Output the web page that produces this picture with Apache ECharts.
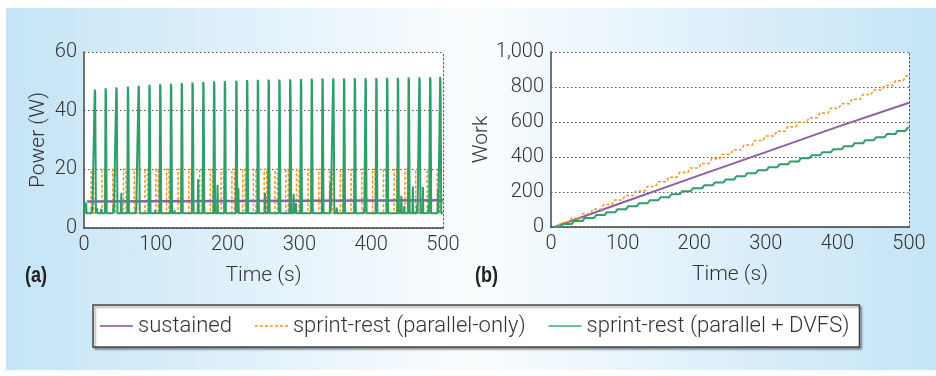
<!DOCTYPE html>
<html>
<head>
<meta charset="utf-8">
<title>Sprint-rest power and work</title>
<script src="https://cdn.jsdelivr.net/npm/echarts@6/dist/echarts.min.js"></script>
<style>
html, body { margin: 0; padding: 0; background: #fff; }
#bg {
  position: absolute; left: 6px; top: 8px; width: 930px; height: 362px;
  background: linear-gradient(to right, #c4e4f6 0%, #e3f2fb 28%, #fafdfe 50%, #e3f2fb 72%, #c4e4f6 100%);
}
#chart { position: absolute; left: 0; top: 0; width: 936px; height: 376px; }
</style>
</head>
<body>
<div id="bg"></div>
<div id="chart"></div>
<script>
// ---- (a) power over time ----
const sustainedPowerT = [4, 500];
const sustainedPowerW = [9.0, 9.5];

// parallel-only sprints: pulse start times (s), pulse length, levels (W)
const parallelPulseT = [10, 25, 40, 55, 70, 85, 100, 115, 131, 146, 161, 176, 191, 206, 221, 236, 251, 266,
  281, 296, 312, 327, 342, 357, 372, 387, 402, 417, 432, 447, 462, 478, 492];
const parallelPulseLen = 3.5;
const parallelLowW = 5;
const parallelHighW = 20;

// parallel + DVFS: spike times (s) and peak power (W)
const dvfsSpikeT = [15, 30, 45, 61, 76, 91, 106, 121, 136, 151, 166, 181, 196, 212, 227, 242, 257, 272,
  287, 302, 317, 332, 347, 362, 377, 392, 407, 422, 437, 452, 467, 482, 496];
const dvfsSpikeW = [47.2, 47.6, 47.9, 48.2, 48.5, 48.8, 49.0, 49.2, 49.4, 49.6, 49.8, 50.0, 50.1, 50.2, 50.4,
  50.5, 50.6, 50.6, 50.7, 50.8, 50.9, 51.0, 51.0, 51.0, 51.1, 51.1, 51.1, 51.2, 51.2, 51.3, 51.3, 51.4, 51.5];
const dvfsBaseW = 5;
// smaller bumps on the idle level
const dvfsBumpT = [1, 3, 11, 18, 24, 41, 52, 72, 99, 126, 159, 186, 215, 252, 292, 295, 343, 352, 390, 442, 446,
  458, 464, 472, 480, 493];
const dvfsBumpW = [9, 8.5, 7, 6.8, 6.5, 7.5, 12, 6.5, 6, 6, 16.7, 14.7, 13.6, 11.9, 11.6, 8.5, 15.3, 7, 6.5, 10.9,
  7.5, 14.1, 8, 14, 8, 13];

// ---- (b) work over time ----
const sustainedWorkT = [5, 100, 200, 300, 400, 500];
const sustainedWork = [0, 140, 285, 428, 572, 710];
const parallelWork = [24, 50, 76, 102, 128, 154, 180, 206, 232, 259, 285, 311, 337, 363, 390, 416, 442, 468,
  494, 520, 547, 573, 599, 625, 651, 678, 704, 730, 757, 783, 809, 836, 863];
const dvfsWork = [17, 34, 51, 68, 85, 102, 119, 136, 153, 170, 187, 204, 221, 238, 255, 272, 290, 307,
  324, 341, 358, 375, 393, 410, 427, 444, 461, 479, 496, 513, 531, 549, 567];

const names = ['sustained', 'sprint-rest (parallel-only)', 'sprint-rest (parallel + DVFS)'];
const PURPLE = '#8c5fa8', ORANGE = '#f7941d', GREEN = '#2f9e68';
const FONT = 'Roboto';
const TXT = '#333';

function pulseLine(starts, len, low, high) {
  const pts = [[2, low]];
  starts.forEach(s => pts.push([s, low], [s, high], [s + len, high], [s + len, low]));
  pts.push([500, low]);
  return pts;
}

function spikeLine() {
  const pts = [];
  dvfsSpikeT.forEach((t, i) => {
    pts.push([t - 0.7, dvfsBaseW], [t, dvfsSpikeW[i]], [t + 0.6, dvfsSpikeW[i] - 1], [t + 1.6, dvfsBaseW]);
  });
  dvfsBumpT.forEach((t, i) => {
    pts.push([t - 0.6, dvfsBaseW], [t, dvfsBumpW[i]], [t + 0.6, dvfsBaseW]);
  });
  pts.push([0, 8.5], [500, dvfsBaseW]);
  pts.sort((a, b) => a[0] - b[0]);
  return pts;
}

function stairs(stepT, rise, values) {
  const pts = [[5, 0]];
  let prev = 0;
  stepT.forEach((t, i) => {
    pts.push([t, prev], [Math.min(t + rise, 500), values[i]]);
    prev = values[i];
  });
  pts.push([500, prev]);
  return pts;
}

const labelStyle = { fontSize: 20, color: TXT, fontFamily: FONT, fontWeight: 300, margin: 7 };
const nameStyle = { fontSize: 21, color: TXT, fontFamily: FONT, fontWeight: 300 };
const solidAxis = { show: true, lineStyle: { color: '#444', width: 1.5 } };
const dotted = { type: [1.5, 2.5], color: '#555', width: 1 };

function xAx(grid) {
  return {
    gridIndex: grid, type: 'value', min: 0, max: 500, interval: 100,
    name: 'Time (s)', nameLocation: 'middle', nameGap: 37, nameTextStyle: nameStyle,
    axisLine: solidAxis, axisTick: { show: false }, axisLabel: labelStyle, splitLine: { show: false }
  };
}
function yAx(grid, max, step, name, gap, fmt) {
  return {
    gridIndex: grid, type: 'value', min: 0, max: max, interval: step,
    name: name, nameLocation: 'middle', nameGap: gap, nameTextStyle: nameStyle,
    axisLine: solidAxis, axisTick: { show: false },
    axisLabel: Object.assign({}, labelStyle, { formatter: fmt }),
    splitLine: { show: true, lineStyle: dotted }
  };
}
// dotted right-hand frame of each plot
function borderAx(grid, max) {
  return {
    gridIndex: grid, type: 'value', position: 'right', min: 0, max: max,
    axisLine: { show: true, lineStyle: dotted }, axisTick: { show: false },
    axisLabel: { show: false }, splitLine: { show: false }
  };
}

// legend keys: plain line, dashed line, plain line
const solidKey = 'path://M0,0H33V2H0Z';
const dashedKey = 'path://M0,0h3v2h-3zM5,0h3v2h-3zM10,0h3v2h-3zM15,0h3v2h-3zM20,0h3v2h-3zM25,0h3v2h-3zM30,0h3v2h-3z';

const chart = echarts.init(document.getElementById('chart'));
chart.setOption({
  animation: false,
  grid: [
    { left: 84, top: 52, width: 359, height: 176, show: true, backgroundColor: '#fff', borderWidth: 0 },
    { left: 551, top: 52, width: 358, height: 175, show: true, backgroundColor: '#fff', borderWidth: 0 }
  ],
  xAxis: [xAx(0), xAx(1)],
  yAxis: [
    yAx(0, 60, 20, 'Power (W)', 35, v => v),
    borderAx(0, 60),
    yAx(1, 1000, 200, 'Work', 47, v => v.toLocaleString('en-US')),
    borderAx(1, 1000)
  ],
  legend: {
    data: [
      { name: names[0], icon: solidKey, itemStyle: { color: '#a27bbd' } },
      { name: names[1], icon: dashedKey, itemStyle: { color: '#f9a94e' } },
      { name: names[2], icon: solidKey, itemStyle: { color: '#6cbf96' } }
    ],
    left: 93, top: 305,
    padding: [10, 10, 10, 7], itemGap: 23, itemWidth: 33, itemHeight: 2,
    backgroundColor: '#fff', borderColor: '#444', borderWidth: 1.5,
    shadowColor: 'rgba(0,0,0,0.35)', shadowOffsetX: 2, shadowOffsetY: 2, shadowBlur: 2,
    textStyle: { fontSize: 22, color: TXT, fontFamily: FONT, fontWeight: 300 }
  },
  graphic: [
    { type: 'text', left: 25, top: 265, scaleX: 0.82, style: { text: '(a)', font: 'bold 22px "Liberation Sans", sans-serif', fill: '#222' } },
    { type: 'text', left: 475, top: 265, scaleX: 0.82, style: { text: '(b)', font: 'bold 22px "Liberation Sans", sans-serif', fill: '#222' } }
  ],
  series: [
    { name: names[0], type: 'line', xAxisIndex: 1, yAxisIndex: 2, symbol: 'none',
      data: sustainedWorkT.map((t, i) => [t, sustainedWork[i]]), lineStyle: { color: PURPLE, width: 2 }, itemStyle: { color: PURPLE } },
    { name: names[1], type: 'line', xAxisIndex: 1, yAxisIndex: 2, symbol: 'none',
      data: stairs(parallelPulseT, parallelPulseLen, parallelWork), lineStyle: { color: ORANGE, width: 1.5, type: [3, 2] }, itemStyle: { color: ORANGE } },
    { name: names[2], type: 'line', xAxisIndex: 1, yAxisIndex: 2, symbol: 'none',
      data: stairs(dvfsSpikeT.map(t => t - 1), 3, dvfsWork), lineStyle: { color: GREEN, width: 2 }, itemStyle: { color: GREEN } },

    { name: names[1], type: 'line', xAxisIndex: 0, yAxisIndex: 0, symbol: 'none',
      data: pulseLine(parallelPulseT, parallelPulseLen, parallelLowW, parallelHighW), lineStyle: { color: ORANGE, width: 1.5, type: [3, 2] } },
    { name: names[0], type: 'line', xAxisIndex: 0, yAxisIndex: 0, symbol: 'none',
      data: sustainedPowerT.map((t, i) => [t, sustainedPowerW[i]]), lineStyle: { color: PURPLE, width: 2.5 } },
    { name: names[2], type: 'line', xAxisIndex: 0, yAxisIndex: 0, symbol: 'none',
      data: spikeLine(), lineStyle: { color: GREEN, width: 2 } }
  ]
});
window.addEventListener('resize', () => chart.resize());
</script>
</body>
</html>
